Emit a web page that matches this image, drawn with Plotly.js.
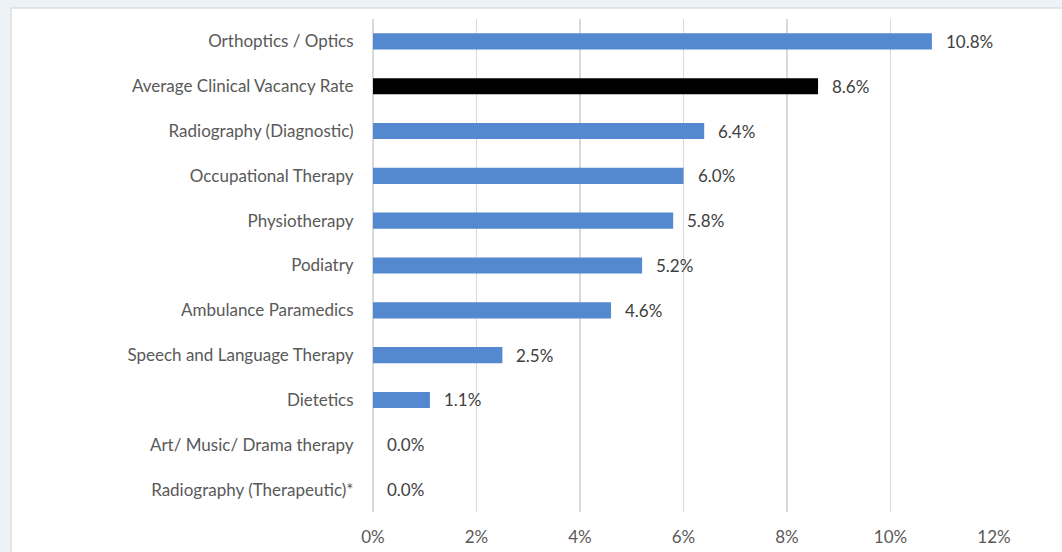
<!DOCTYPE html>
<html>
<head>
<meta charset="utf-8">
<script src="https://cdn.plot.ly/plotly-3.0.1.min.js"></script>
<style>html,body{margin:0;padding:0;background:#ecf2f5;}#chart{width:1062px;height:552px;}</style>
</head>
<body>
<div id="chart"></div>
<script>
const categories = [
  "Orthoptics / Optics",
  "Average Clinical Vacancy Rate",
  "Radiography (Diagnostic)",
  "Occupational Therapy",
  "Physiotherapy",
  "Podiatry",
  "Ambulance Paramedics",
  "Speech and Language Therapy",
  "Dietetics",
  "Art/ Music/ Drama therapy",
  "Radiography (Therapeutic)*"
];
const vacancyRates = [10.8, 8.6, 6.4, 6.0, 5.8, 5.2, 4.6, 2.5, 1.1, 0.0, 0.0];
const highlightCategory = "Average Clinical Vacancy Rate";
const xTickValues = [0, 2, 4, 6, 8, 10, 12];
const xTickLabels = ["0%", "2%", "4%", "6%", "8%", "10%", "12%"];

const barColors = categories.map(c => c === highlightCategory ? "#000000" : "#5589cf");
const FONT = "Lato, sans-serif";

const trace = {
  type: "bar",
  orientation: "h",
  x: vacancyRates,
  y: categories,
  marker: {color: barColors},
  width: 0.36,
  hoverinfo: "skip"
};

const annotations = categories.map((c, i) => ({
  x: vacancyRates[i],
  y: c,
  xref: "x",
  yref: "y",
  text: vacancyRates[i].toFixed(1) + "%",
  showarrow: false,
  xanchor: "left",
  yanchor: "middle",
  xshift: 12,
  font: {family: FONT, size: 17, color: "#404040"}
}));

const layout = {
  width: 1062,
  height: 552,
  margin: {l: 373, r: 68, t: 19, b: 40, pad: 0},
  paper_bgcolor: "#ecf2f5",
  plot_bgcolor: "rgba(0,0,0,0)",
  showlegend: false,
  font: {family: FONT, size: 17, color: "#595959"},
  xaxis: {
    range: [0, 12],
    tickvals: xTickValues,
    ticktext: xTickLabels,
    showgrid: true,
    gridcolor: "#d9d9d9",
    gridwidth: 1.5,
    zeroline: true,
    zerolinecolor: "#d9d9d9",
    zerolinewidth: 1.5,
    showline: false,
    ticks: "outside",
    ticklen: 10,
    tickcolor: "rgba(0,0,0,0)",
    tickfont: {family: FONT, size: 17, color: "#595959"},
    fixedrange: true
  },
  yaxis: {
    type: "category",
    autorange: "reversed",
    showgrid: false,
    zeroline: false,
    showline: false,
    ticks: "outside",
    ticklen: 15,
    tickcolor: "rgba(0,0,0,0)",
    tickfont: {family: FONT, size: 17, color: "#595959"},
    fixedrange: true
  },
  shapes: [{
    type: "rect",
    xref: "paper",
    yref: "paper",
    x0: -0.583,
    x1: 1.2,
    y0: -0.2,
    y1: 1.0223,
    fillcolor: "#ffffff",
    line: {color: "#d8dfe3", width: 1.5},
    layer: "below"
  }],
  annotations: annotations
};

Plotly.newPlot("chart", [trace], layout, {displayModeBar: false, staticPlot: true});
</script>
</body>
</html>
